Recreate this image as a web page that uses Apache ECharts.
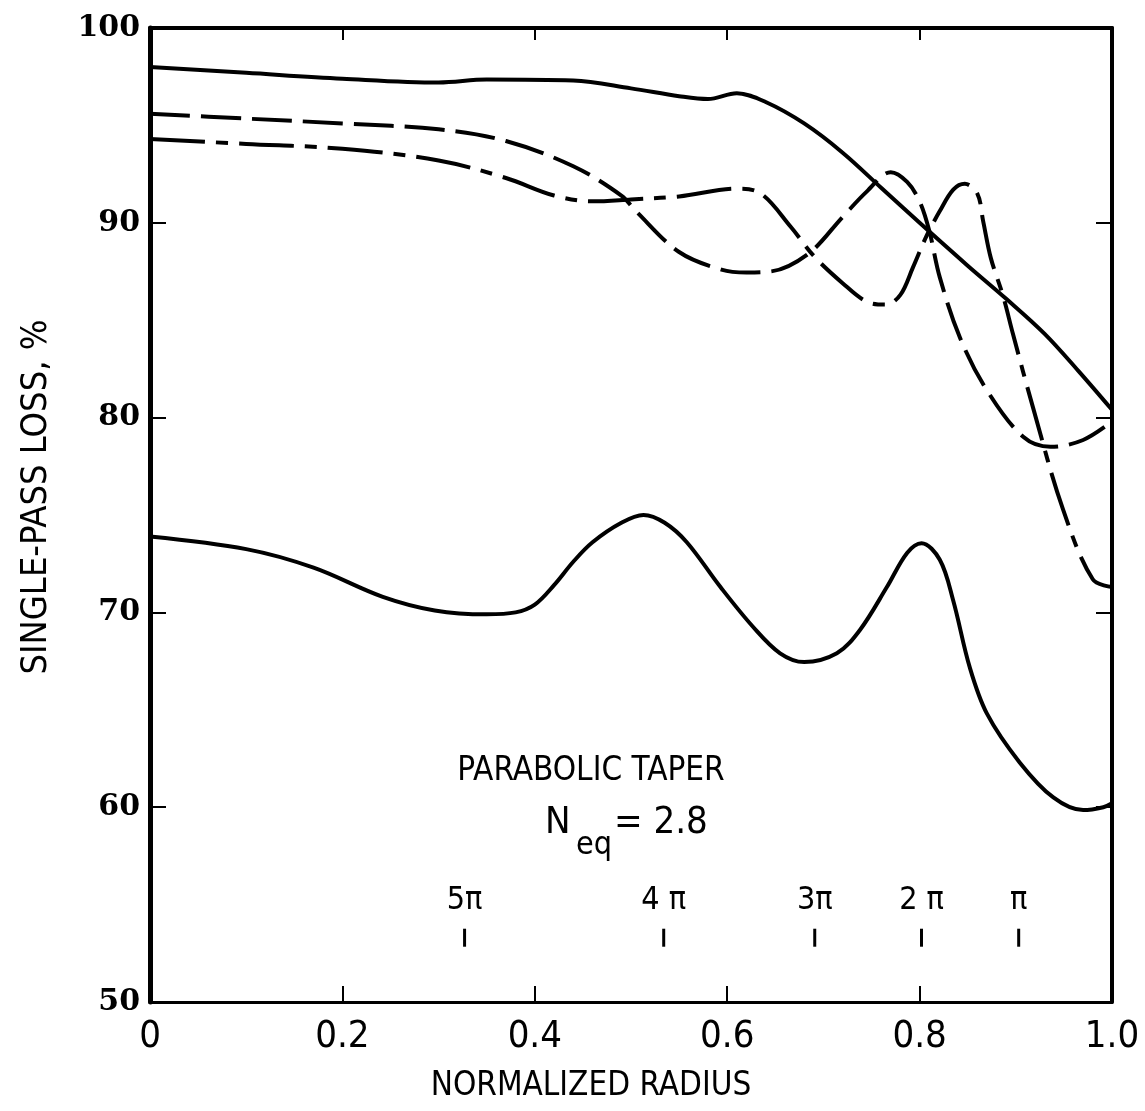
<!DOCTYPE html>
<html>
<head>
<meta charset="utf-8">
<script src="https://cdn.jsdelivr.net/npm/echarts@6/dist/echarts.min.js"></script>
<style>
  html, body { margin: 0; padding: 0; background: #fff; }
  #main { width: 1145px; height: 1111px; }
</style>
</head>
<body>
<div id="main"></div>
<script>
// top solid curve
var xTop = [0, 0.1, 0.2, 0.3, 0.35, 0.44, 0.5, 0.55, 0.58, 0.61, 0.64, 0.68, 0.72, 0.76, 0.8, 0.85, 0.89, 0.93, 0.965, 1.0];
var lossTop = [98.0, 97.7, 97.4, 97.2, 97.35, 97.3, 96.9, 96.5, 96.35, 96.65, 96.2, 95.1, 93.6, 91.8, 90.0, 87.8, 86.1, 84.3, 82.4, 80.4];

// long dash curve
var xDash = [0, 0.1, 0.2, 0.3, 0.37, 0.44, 0.49, 0.505, 0.55, 0.594, 0.62, 0.645, 0.684, 0.72, 0.745, 0.77, 0.787, 0.8, 0.81, 0.821, 0.842, 0.87, 0.908, 0.936, 0.97, 1.0];
var lossDash = [95.6, 95.35, 95.1, 94.8, 94.2, 92.9, 91.4, 90.6, 88.5, 87.6, 87.45, 87.5, 88.4, 90.3, 91.6, 92.6, 92.1, 91.1, 89.6, 87.2, 84.1, 81.4, 79.0, 78.5, 78.85, 79.8];

// dash-dot curve
var xDot = [0, 0.1, 0.2, 0.3, 0.37, 0.42, 0.46, 0.5, 0.55, 0.61, 0.635, 0.666, 0.69, 0.72, 0.745, 0.765, 0.78, 0.793, 0.807, 0.821, 0.835, 0.847, 0.86, 0.866, 0.874, 0.887, 0.897, 0.918, 0.949, 0.98, 1.0];
var lossDot = [94.3, 94.05, 93.8, 93.2, 92.3, 91.4, 91.1, 91.2, 91.35, 91.75, 91.5, 89.8, 88.3, 86.9, 85.95, 85.8, 86.3, 87.7, 89.3, 90.6, 91.7, 92.0, 91.5, 90.1, 88.2, 86.2, 84.3, 80.5, 75.3, 71.7, 71.3];

// bottom solid curve
var xLow = [0, 0.1, 0.17, 0.242, 0.296, 0.35, 0.38, 0.4, 0.42, 0.44, 0.46, 0.49, 0.513, 0.535, 0.558, 0.593, 0.627, 0.655, 0.68, 0.714, 0.738, 0.766, 0.787, 0.802, 0.821, 0.835, 0.852, 0.87, 0.904, 0.939, 0.97, 0.991, 1.0];
var lossLow = [73.9, 73.25, 72.3, 70.8, 70.1, 69.9, 70.0, 70.4, 71.4, 72.6, 73.6, 74.6, 75.0, 74.6, 73.6, 71.3, 69.25, 67.9, 67.45, 67.9, 69.1, 71.3, 73.05, 73.55, 72.7, 70.6, 67.2, 64.8, 62.3, 60.5, 59.85, 60.0, 60.2];

// phase markers
var xPi = [0.327, 0.534, 0.691, 0.802, 0.903];
var piLabels = ['5\u03c0', '4 \u03c0', '3\u03c0', '2 \u03c0', '\u03c0'];
var piLevel = 53.3;

function zip(xs, ys) {
    var out = [];
    for (var i = 0; i < xs.length; i++) {
        out.push([xs[i], ys[i]]);
    }
    return out;
}

var narrow = '"DejaVu Sans Condensed", "Liberation Sans Narrow", sans-serif';

var myChart = echarts.init(document.getElementById('main'));

var lineBase = { color: '#000', width: 4, cap: 'butt', join: 'round' };

option = {
    backgroundColor: '#fff',
    animation: false,
    grid: { left: 150, right: 33, top: 28, bottom: 109 },
    xAxis: [
        {
            type: 'value', min: 0, max: 1, interval: 0.2, position: 'bottom',
            axisLine: { onZero: false, lineStyle: { color: '#000', width: 3 } },
            axisTick: { inside: true, length: 16, lineStyle: { color: '#000', width: 2 } },
            splitLine: { show: false },
            axisLabel: {
                color: '#000', fontFamily: narrow, fontSize: 38, margin: 16,
                formatter: function (v) { return v === 0 ? '0' : v.toFixed(1); }
            }
        },
        {
            type: 'value', min: 0, max: 1, interval: 0.2, position: 'top',
            axisLine: { onZero: false, lineStyle: { color: '#000', width: 4 } },
            axisTick: { inside: true, length: 12, lineStyle: { color: '#000', width: 2 } },
            splitLine: { show: false },
            axisLabel: { show: false }
        }
    ],
    yAxis: [
        {
            type: 'value', min: 50, max: 100, interval: 10, position: 'left',
            axisLine: { onZero: false, lineStyle: { color: '#000', width: 5 } },
            axisTick: { inside: true, length: 16, lineStyle: { color: '#000', width: 2 } },
            splitLine: { show: false },
            axisLabel: {
                color: '#000', fontFamily: '"DejaVu Serif", serif', fontWeight: 'bold',
                fontSize: 30, margin: 10
            }
        },
        {
            type: 'value', min: 50, max: 100, interval: 10, position: 'right',
            axisLine: { onZero: false, lineStyle: { color: '#000', width: 4 } },
            axisTick: { inside: true, length: 16, lineStyle: { color: '#000', width: 2 } },
            splitLine: { show: false },
            axisLabel: { show: false }
        }
    ],
    series: [
        {
            name: 'top', type: 'line', smooth: 0.35, showSymbol: false,
            data: zip(xTop, lossTop),
            lineStyle: lineBase
        },
        {
            name: 'dash', type: 'line', smooth: 0.35, showSymbol: false,
            data: zip(xDash, lossDash),
            lineStyle: Object.assign({}, lineBase, { type: [40, 11] })
        },
        {
            name: 'dashdot', type: 'line', smooth: 0.35, showSymbol: false,
            data: zip(xDot, lossDot),
            lineStyle: Object.assign({}, lineBase, { type: [55, 11, 12, 11] })
        },
        {
            name: 'low', type: 'line', smooth: 0.35, showSymbol: false,
            data: zip(xLow, lossLow),
            lineStyle: lineBase
        },
        {
            name: 'phase', type: 'scatter',
            data: xPi.map(function (x, i) { return { value: [x, piLevel], name: piLabels[i] }; }),
            symbol: 'rect', symbolSize: [3, 18],
            itemStyle: { color: '#000', opacity: 1 },
            label: {
                show: true, position: 'top', distance: 12,
                formatter: '{b}', color: '#000', fontFamily: narrow, fontSize: 32
            }
        }
    ],
    graphic: [
        {
            type: 'text', x: 591, y: 1086,
            style: {
                text: 'NORMALIZED RADIUS', fill: '#000', font: '33px ' + narrow,
                textAlign: 'center', textVerticalAlign: 'middle'
            }
        },
        {
            type: 'text', x: 37, y: 497, rotation: Math.PI / 2,
            style: {
                text: 'SINGLE-PASS LOSS, %', fill: '#000', font: '36px ' + narrow,
                textAlign: 'center', textVerticalAlign: 'middle'
            }
        },
        {
            type: 'text', x: 591, y: 771,
            style: {
                text: 'PARABOLIC TAPER', fill: '#000', font: '33px ' + narrow,
                textAlign: 'center', textVerticalAlign: 'middle'
            }
        },
        {
            type: 'text', x: 545, y: 823,
            style: { text: 'N', fill: '#000', font: '38px ' + narrow, textVerticalAlign: 'middle' }
        },
        {
            type: 'text', x: 576, y: 846,
            style: { text: 'eq', fill: '#000', font: '32px ' + narrow, textVerticalAlign: 'middle' }
        },
        {
            type: 'text', x: 614, y: 823,
            style: { text: '= 2.8', fill: '#000', font: '38px ' + narrow, textVerticalAlign: 'middle' }
        }
    ]
};

myChart.setOption(option);
</script>
</body>
</html>
